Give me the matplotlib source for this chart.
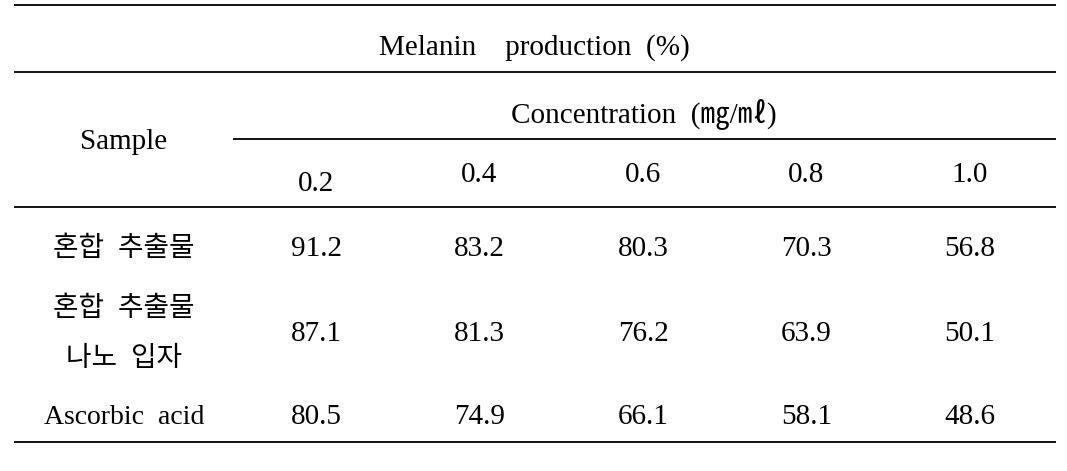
import matplotlib
matplotlib.use("Agg")
import matplotlib.pyplot as plt

# Table content
title = "Melanin    production  (%)"
group_label = "Concentration  (㎎/㎖)"
sample_header = "Sample"
concentrations = ["0.2", "0.4", "0.6", "0.8", "1.0"]
samples = ["혼합  추출물", "혼합  추출물\n나노  입자", "Ascorbic  acid"]
mix_extract = [91.2, 83.2, 80.3, 70.3, 56.8]
mix_nano = [87.1, 81.3, 76.2, 63.9, 50.1]
ascorbic = [80.5, 74.9, 66.1, 58.1, 48.6]
rows = [mix_extract, mix_nano, ascorbic]

fonts = ["Liberation Serif", "Noto Sans CJK KR"]
fs = 21

fig = plt.figure(figsize=(10.67, 4.71), dpi=100)
ax = fig.add_axes([0, 0, 1, 1])
ax.set_xlim(0, 1067)
ax.set_ylim(471, 0)
ax.axis("off")

# layout (pixels)
left, right = 14, 1056
label_x = 124
col_x = [316 + 163.5 * i for i in range(len(concentrations))]
row_y = [249, 334, 417]

# rules
lw = 1.3
for y in [5, 72, 207, 442]:
    ax.hlines(y, left, right, color="black", lw=lw)
ax.hlines(139, 233, right, color="black", lw=lw)

# header
ax.text(534, 48, title, ha="center", va="center", fontsize=fs, family=fonts)
ax.text(644, 115, group_label, ha="center", va="center", fontsize=fs, family=fonts)
ax.text(label_x, 142, sample_header, ha="center", va="center", fontsize=fs, family=fonts)
for i, c in enumerate(concentrations):
    ax.text(col_x[i], 184 if i == 0 else 175, c, ha="center", va="center",
            fontsize=fs, family=fonts)

# body
for r, (name, vals) in enumerate(zip(samples, rows)):
    lines = name.split("\n")
    n = len(lines)
    for k, line in enumerate(lines):
        y = row_y[r] + (k - (n - 1) / 2) * 50
        ax.text(label_x, y, line, ha="center", va="center", fontsize=fs - 1,
                family=fonts, color="black")
    for i, v in enumerate(vals):
        ax.text(col_x[i], row_y[r], f"{v:.1f}", ha="center", va="center",
                fontsize=fs, family=fonts)

fig.savefig("out.png", dpi=100)
